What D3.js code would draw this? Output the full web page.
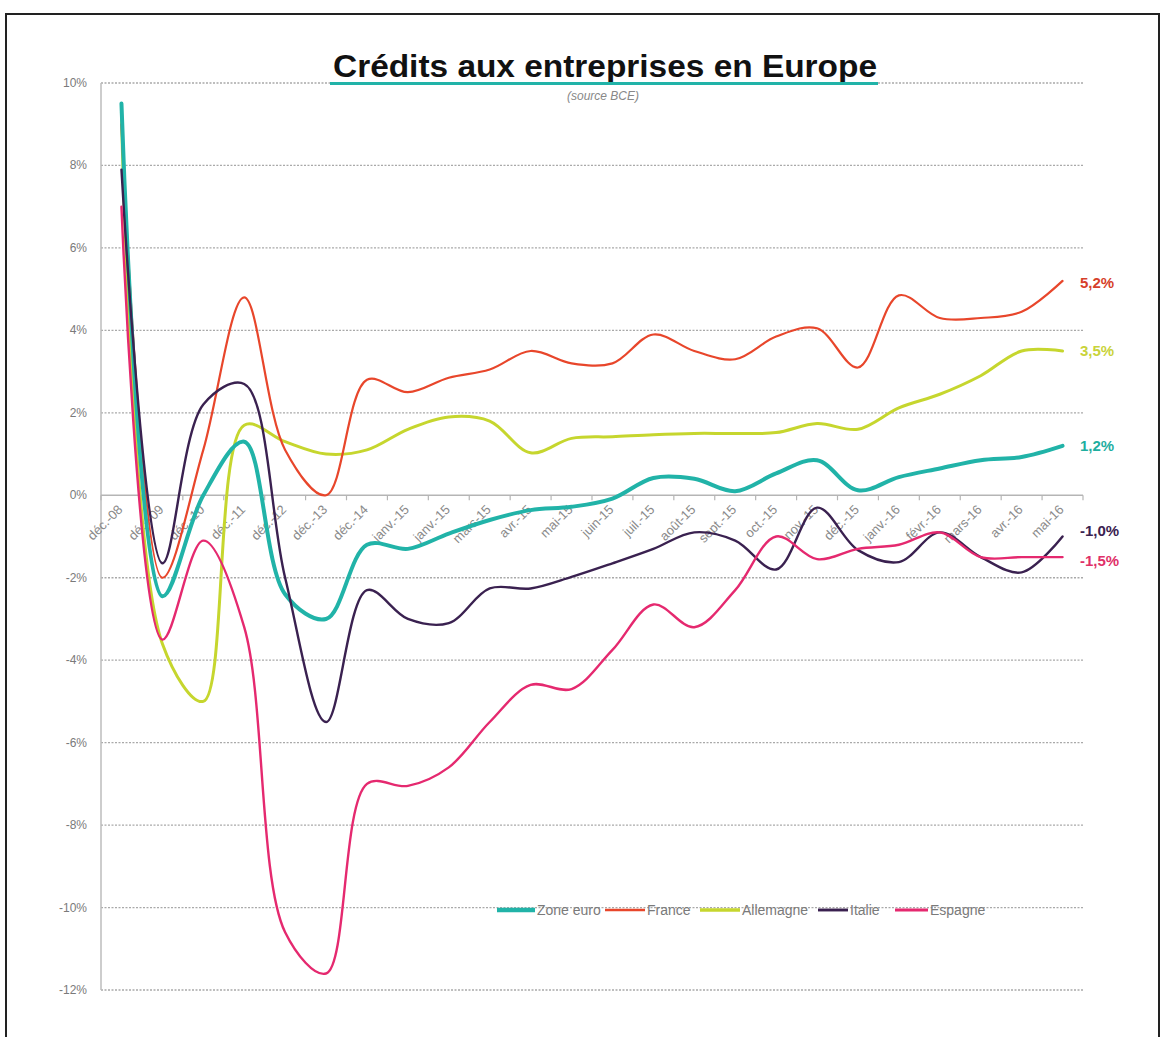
<!DOCTYPE html>
<html>
<head>
<meta charset="utf-8">
<script src="https://cdn.jsdelivr.net/npm/d3@7/dist/d3.min.js"></script>
<style>
  html, body { margin: 0; padding: 0; background: #fff; }
  svg { display: block; }
  text { font-family: "Liberation Sans", Arial, sans-serif; }
</style>
</head>
<body>
<svg id="chart" width="1165" height="1037"></svg>
<script>
// Month labels along the horizontal axis
const categories = ["déc.-08","déc.-09","déc.-10","déc.-11","déc.-12","déc.-13","déc.-14",
  "janv.-15","janv.-15","mars-15","avr.-15","mai-15","juin-15","juil.-15","août-15",
  "sept.-15","oct.-15","nov.-15","déc.-15","janv.-16","févr.-16","mars-16","avr.-16","mai-16"];

// Annual growth of corporate loans (%)
const zoneEuro  = [9.5,-2.45,0.0,1.3,-2.4,-3.0,-1.2,-1.3,-0.93,-0.6,-0.36,-0.28,-0.08,0.42,0.4,0.1,0.53,0.85,0.12,0.44,0.65,0.85,0.93,1.2];
const france    = [9.0,-2.0,1.1,4.8,1.1,0.0,2.8,2.5,2.85,3.05,3.5,3.2,3.2,3.9,3.5,3.3,3.85,4.05,3.1,4.85,4.3,4.3,4.45,5.2];
const allemagne = [9.3,-3.6,-5.0,1.7,1.3,1.0,1.1,1.6,1.9,1.8,1.03,1.38,1.42,1.47,1.5,1.5,1.52,1.74,1.6,2.12,2.45,2.9,3.5,3.5];
const italie    = [7.9,-1.65,2.2,2.7,-2.0,-5.5,-2.3,-3.0,-3.1,-2.26,-2.26,-1.98,-1.65,-1.3,-0.9,-1.1,-1.8,-0.3,-1.33,-1.62,-0.9,-1.5,-1.87,-1.0];
const espagne   = [7.0,-3.5,-1.1,-3.2,-10.6,-11.6,-7.0,-7.05,-6.6,-5.5,-4.6,-4.7,-3.75,-2.65,-3.2,-2.3,-1.0,-1.55,-1.3,-1.2,-0.9,-1.5,-1.5,-1.5];

const yTicks = [10,8,6,4,2,0,-2,-4,-6,-8,-10,-12];

const seriesNames  = ["Zone euro","France","Allemagne","Italie","Espagne"];
const seriesValues = [zoneEuro, france, allemagne, italie, espagne];
const endLabels    = ["1,2%","5,2%","3,5%","-1,0%","-1,5%"];

const colors = ["#21b3a8","#e8462b","#c6d62e","#3a2150","#e5296f"];
const widths = [4, 2.2, 3, 2.4, 2.4];
const labelColors = ["#1fae9f","#d63f2a","#c9d33a","#3a2150","#e03068"];
const labelDy = [0, 2, 0, -6, 4];

const svg = d3.select("#chart");

// Outer frame
svg.append("rect")
  .attr("x", 6).attr("y", 14).attr("width", 1153).attr("height", 1040)
  .attr("fill", "none").attr("stroke", "#222").attr("stroke-width", 2);

const plotLeft = 101, plotRight = 1083, plotTop = 83, plotBottom = 990;

const x = d3.scalePoint().domain(d3.range(categories.length)).range([plotLeft, plotRight]).padding(0.5);
const y = d3.scaleLinear().domain([-12, 10]).range([plotBottom, plotTop]);
const step = x.step();

// Horizontal gridlines
svg.append("g").selectAll("line").data(yTicks.filter(d => d !== 0)).join("line")
  .attr("x1", plotLeft).attr("x2", plotRight)
  .attr("y1", d => y(d)).attr("y2", d => y(d))
  .attr("stroke", "#a9a9a9").attr("stroke-width", 1.3).attr("stroke-dasharray", "2,1.5");

// Vertical axis line
svg.append("line").attr("x1", plotLeft).attr("x2", plotLeft).attr("y1", plotTop).attr("y2", plotBottom)
  .attr("stroke", "#bdbdbd").attr("stroke-width", 1.5);

// Y tick labels
svg.append("g").selectAll("text").data(yTicks).join("text")
  .attr("x", 87).attr("y", d => y(d) + 4)
  .attr("text-anchor", "end").attr("font-size", 12).attr("fill", "#7a7a7a")
  .text(d => d + "%");

// Zero line with category tick marks
svg.append("line").attr("x1", plotLeft).attr("x2", plotRight).attr("y1", y(0)).attr("y2", y(0))
  .attr("stroke", "#b5b5b5").attr("stroke-width", 1.5);
svg.append("g").selectAll("line").data(d3.range(categories.length + 1)).join("line")
  .attr("x1", i => plotLeft + i * step).attr("x2", i => plotLeft + i * step)
  .attr("y1", y(0)).attr("y2", y(0) + 5)
  .attr("stroke", "#b5b5b5").attr("stroke-width", 1.2);

// Category labels, rotated
svg.append("g").selectAll("text").data(categories).join("text")
  .attr("transform", (d, i) => `translate(${x(i) + 2},${y(0) + 15}) rotate(-45)`)
  .attr("text-anchor", "end").attr("font-size", 13).attr("fill", "#8a8a8a")
  .text(d => d);

// Series lines
const line = d3.line().x((d, i) => x(i)).y(d => y(d)).curve(d3.curveCatmullRom.alpha(0.5));
const order = [2, 1, 0, 3, 4];
svg.append("g").selectAll("path").data(order).join("path")
  .attr("d", k => line(seriesValues[k]))
  .attr("fill", "none")
  .attr("stroke", k => colors[k])
  .attr("stroke-width", k => widths[k])
  .attr("stroke-linejoin", "round").attr("stroke-linecap", "round");

// Last-value labels
svg.append("g").selectAll("text").data(d3.range(seriesNames.length)).join("text")
  .attr("x", 1080)
  .attr("y", k => y(seriesValues[k][seriesValues[k].length - 1]) + 5 + labelDy[k])
  .attr("font-size", 15).attr("font-weight", "bold")
  .attr("fill", k => labelColors[k])
  .text(k => endLabels[k]);

// Title
svg.append("text").attr("x", 605).attr("y", 77).attr("text-anchor", "middle")
  .attr("font-size", 31).attr("font-weight", "bold").attr("fill", "#111")
  .attr("textLength", 544).attr("lengthAdjust", "spacingAndGlyphs")
  .text("Crédits aux entreprises en Europe");
svg.append("rect").attr("x", 330).attr("y", 82).attr("width", 548).attr("height", 3)
  .attr("fill", "#21b3a8");
svg.append("text").attr("x", 603).attr("y", 100).attr("text-anchor", "middle")
  .attr("font-size", 12).attr("font-style", "italic").attr("fill", "#888")
  .text("(source BCE)");

// Legend
const legendX = [497, 605, 700, 818, 895];
const legendLen = [38, 40, 40, 30, 33];
const legend = svg.append("g").selectAll("g").data(d3.range(seriesNames.length)).join("g")
  .attr("transform", k => `translate(${legendX[k]},910)`);
legend.append("line").attr("x1", 0).attr("x2", k => legendLen[k]).attr("y1", 0).attr("y2", 0)
  .attr("stroke", k => colors[k]).attr("stroke-width", k => widths[k] + 0.5);
legend.append("text").attr("x", k => legendLen[k] + 2).attr("y", 5)
  .attr("font-size", 14).attr("fill", "#7a7a7a")
  .text(k => seriesNames[k]);
</script>
</body>
</html>
